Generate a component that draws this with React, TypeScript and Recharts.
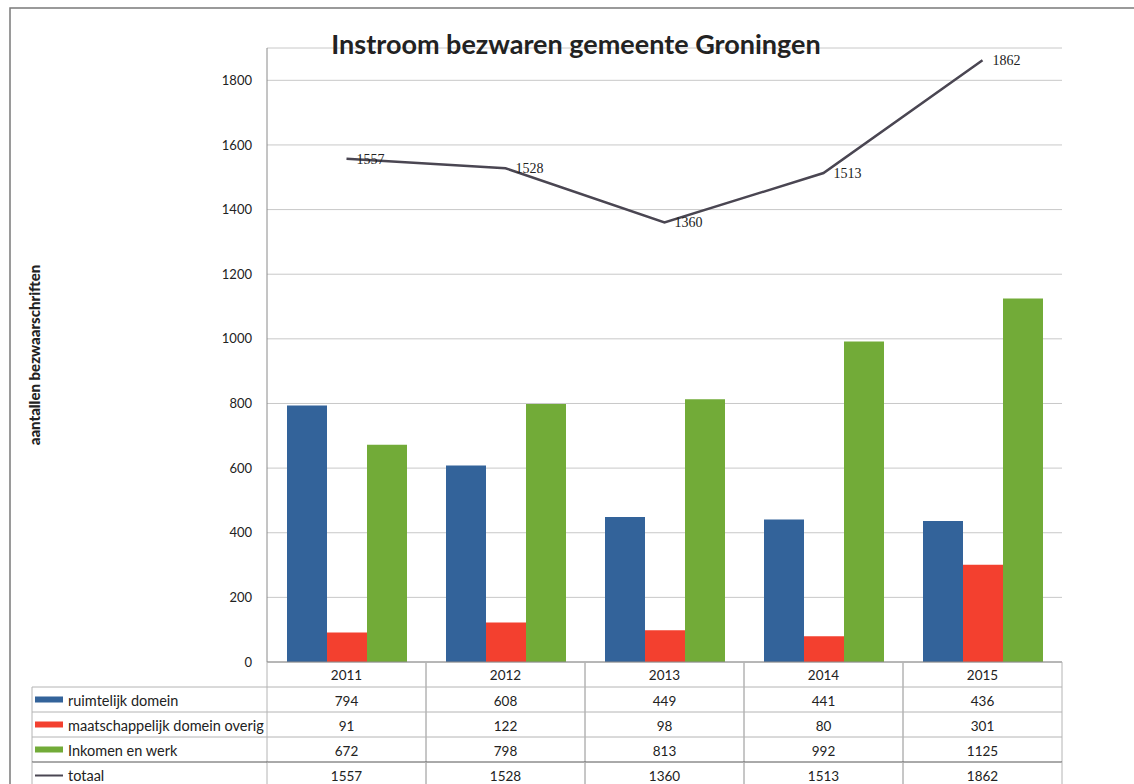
import React from 'react';
import { ComposedChart, Bar, Line, XAxis, YAxis, CartesianGrid, LabelList, Customized } from 'recharts';

// ---- data ----
const years = ['2011', '2012', '2013', '2014', '2015'];
const ruimtelijk = [794, 608, 449, 441, 436];
const maatschappelijk = [91, 122, 98, 80, 301];
const inkomen = [672, 798, 813, 992, 1125];
const totaal = [1557, 1528, 1360, 1513, 1862];
const yTicks = [0, 200, 400, 600, 800, 1000, 1200, 1400, 1600, 1800];
const seriesNames = ['ruimtelijk domein', 'maatschappelijk domein overig', 'Inkomen en werk', 'totaal'];
const title = 'Instroom bezwaren gemeente Groningen';
const yLabel = 'aantallen bezwaarschriften';

const data = years.map((year, i) => ({
  year,
  ruimtelijk: ruimtelijk[i],
  maatschappelijk: maatschappelijk[i],
  inkomen: inkomen[i],
  totaal: totaal[i],
}));

// ---- layout / style ----
const W = 1134;
const H = 784;
const M = { top: 48, right: 72, left: 0, bottom: 0 };
const YW = 267;
const plotW = W - M.left - M.right - YW;
const band = plotW / years.length;
const LEG_LEFT = 32;
const ROW_H = 25;
const FONT = 'Lato, "Open Sans", sans-serif';
const GRID = '#b4b4b4';

const series = [
  { key: 'ruimtelijk', color: '#33639A', kind: 'bar' },
  { key: 'maatschappelijk', color: '#F3402F', kind: 'bar' },
  { key: 'inkomen', color: '#72AB38', kind: 'bar' },
  { key: 'totaal', color: '#4A4652', kind: 'line' },
];

const HeaderTick = (props: any) => {
  const { x, y, payload } = props;
  const left = x - band / 2;
  const right = x + band / 2;
  return (
    <g>
      <line x1={left} x2={left} y1={y} y2={y + ROW_H} stroke={GRID} />
      <line x1={right} x2={right} y1={y} y2={y + ROW_H} stroke={GRID} />
      <text x={x} y={y + ROW_H / 2} textAnchor="middle" dominantBaseline="central"
        fontFamily={FONT} fontSize={13.5} fill="#222">{payload.value}</text>
    </g>
  );
};

const makeRowTick = (rowIndex: number) => (props: any) => {
  const { x, y, payload } = props;
  const s = series[rowIndex];
  const row = data.find((d) => d.year === payload.value) as any;
  const idx = data.indexOf(row);
  const left = x - band / 2;
  const right = x + band / 2;
  const topStroke = rowIndex === 3 ? '#555' : GRID;
  return (
    <g>
      <line x1={left} x2={right} y1={y} y2={y} stroke={topStroke} />
      <line x1={left} x2={left} y1={y} y2={y + ROW_H} stroke={GRID} />
      <line x1={right} x2={right} y1={y} y2={y + ROW_H} stroke={GRID} />
      <text x={x} y={y + ROW_H / 2 + 1} textAnchor="middle" dominantBaseline="central"
        fontFamily={FONT} fontSize={13.5} fill="#222">{row ? row[s.key] : ''}</text>
      {idx === 0 && (
        <g>
          <line x1={LEG_LEFT} x2={left} y1={y} y2={y} stroke={topStroke} />
          <line x1={LEG_LEFT} x2={LEG_LEFT} y1={y} y2={y + ROW_H} stroke={GRID} />
          {s.kind === 'bar' ? (
            <rect x={LEG_LEFT + 3} y={y + ROW_H / 2 - 3} width={28} height={6} fill={s.color} />
          ) : (
            <line x1={LEG_LEFT + 3} x2={LEG_LEFT + 31} y1={y + ROW_H / 2 + 1} y2={y + ROW_H / 2 + 1}
              stroke={s.color} strokeWidth={2} />
          )}
          <text x={LEG_LEFT + 36} y={y + ROW_H / 2 + 1} dominantBaseline="central"
            fontFamily={FONT} fontSize={14.5} fill="#222">{seriesNames[rowIndex]}</text>
        </g>
      )}
    </g>
  );
};

const rowTicks = series.map((_, i) => makeRowTick(i));

const Decor = () => (
  <g>
    <rect x={10} y={8} width={1400} height={1000} fill="none" stroke="#7a7a7a" strokeWidth={1.5} />
    <text x={576} y={43} textAnchor="middle" dominantBaseline="central"
      fontFamily={FONT} fontWeight={700} fontSize={27} fill="#222">{title}</text>
    <text x={34} y={355} transform="rotate(-90 34 355)" textAnchor="middle" dominantBaseline="central"
      fontFamily={FONT} fontWeight={900} fontSize={15} fill="#222">{yLabel}</text>
  </g>
);

export default function App() {
  return (
    <div style={{ position: 'absolute', left: 0, top: 0, width: W, height: H, background: '#fff', overflow: 'hidden' }}>
      <ComposedChart width={W} height={H} data={data} margin={M} barCategoryGap={20} barGap={0}>
        <Customized component={Decor} />
        <CartesianGrid horizontal vertical={false} stroke="#c8c8c8" />
        <YAxis
          domain={[0, 1900]}
          ticks={yTicks}
          width={YW}
          tickLine={false}
          tickSize={6}
          tickMargin={9}
          axisLine={{ stroke: '#8a8a8a' }}
          tick={{ fontFamily: FONT, fontSize: 13, fill: '#222' }}
          allowDataOverflow
        />
        <XAxis xAxisId="main" dataKey="year" height={ROW_H} interval={0} tickSize={0} tickMargin={0}
          tickLine={false} axisLine={{ stroke: '#8a8a8a' }} tick={HeaderTick} />
        <XAxis xAxisId="r0" dataKey="year" height={ROW_H} interval={0} tickSize={0} tickMargin={0}
          tickLine={false} axisLine={false} tick={rowTicks[0]} />
        <XAxis xAxisId="r1" dataKey="year" height={ROW_H} interval={0} tickSize={0} tickMargin={0}
          tickLine={false} axisLine={false} tick={rowTicks[1]} />
        <XAxis xAxisId="r2" dataKey="year" height={ROW_H} interval={0} tickSize={0} tickMargin={0}
          tickLine={false} axisLine={false} tick={rowTicks[2]} />
        <XAxis xAxisId="r3" dataKey="year" height={H - M.top - 614 - ROW_H * 4} interval={0} tickSize={0} tickMargin={0}
          tickLine={false} axisLine={false} tick={rowTicks[3]} />
        <Bar xAxisId="main" dataKey="ruimtelijk" fill={series[0].color} isAnimationActive={false} />
        <Bar xAxisId="main" dataKey="maatschappelijk" fill={series[1].color} isAnimationActive={false} />
        <Bar xAxisId="main" dataKey="inkomen" fill={series[2].color} isAnimationActive={false} />
        <Line xAxisId="main" dataKey="totaal" stroke={series[3].color} strokeWidth={2.5} dot={false}
          isAnimationActive={false}>
          <LabelList dataKey="totaal" position="right" offset={10}
            style={{ fontFamily: '"Liberation Serif", serif', fontSize: 14, fill: '#222' }} />
        </Line>
      </ComposedChart>
    </div>
  );
}
